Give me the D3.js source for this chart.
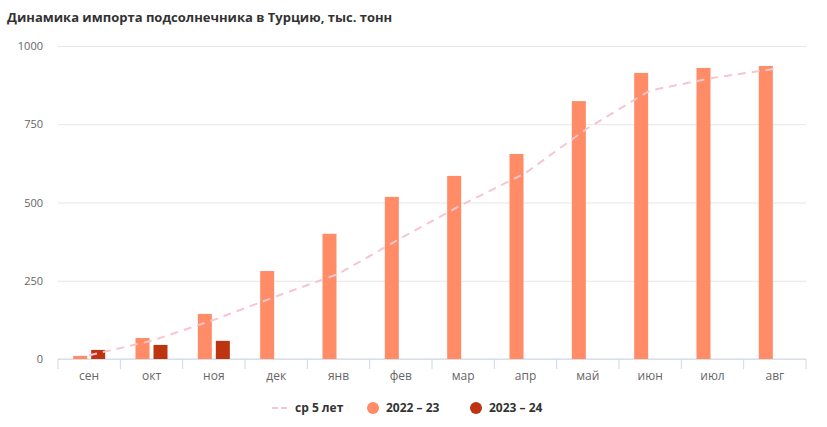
<!DOCTYPE html>
<html><head><meta charset="utf-8">
<script src="https://cdn.jsdelivr.net/npm/d3@7"></script>
<style>body{margin:0;background:#fff;font-family:"Open Sans",sans-serif}</style>
</head><body>
<svg id="c" width="827" height="427"></svg>
<script>
const categories = ["сен","окт","ноя","дек","янв","фев","мар","апр","май","июн","июл","авг"];
const s2022 = [10,67,144,281,400,518,585,655,824,914,930,936];
const s2023 = [29,45,58,null,null,null,null,null,null,null,null,null];
const avg5 = [12,58,125,200,272,386,495,594,738,858,898,927];
const yTicks = [0,250,500,750,1000];
const seriesNames = ["ср 5 лет","2022 – 23","2023 – 24"];
const colors = {avg:"#f7c5cf", a:"#ff8b67", b:"#bf3410"};

const svg = d3.select("#c");
const L=58,R=806,T=46,B=359;
const x = d3.scaleBand().domain(categories).range([L,R]);
const y = d3.scaleLinear().domain([0,1000]).range([B,T]);

svg.append("text").attr("x",7).attr("y",22).text("Динамика импорта подсолнечника в Турцию, тыс. тонн")
  .attr("font-size",13).attr("font-weight","bold").attr("fill","#333");

// grid
const ya = svg.append("g").attr("transform",`translate(${L},0)`)
  .call(d3.axisLeft(y).tickValues(yTicks).tickSize(-(R-L)).tickFormat(d3.format("d")));
ya.select(".domain").remove();
ya.selectAll(".tick line").attr("stroke","#e6e6e6");
ya.selectAll(".tick text").attr("x",-15).attr("fill","#666").attr("font-size",11).attr("font-family","Open Sans");

// x axis
const xa = svg.append("g").attr("transform",`translate(0,${B})`).call(d3.axisBottom(x).tickSize(0).tickPadding(12));
xa.select(".domain").attr("stroke","#ccd6eb").attr("d",`M${L},0H${R}`);
xa.selectAll(".tick text").attr("fill","#666").attr("font-size",12).attr("font-family","Open Sans");
const bounds = categories.map(c=>x(c)).concat([R]);
xa.selectAll(".bt").data(bounds).enter().append("line").attr("class","bt")
  .attr("x1",d=>d).attr("x2",d=>d).attr("y1",0).attr("y2",10).attr("stroke","#ccd6eb");

// bars
const bw = 14, gap = 4;
const g = svg.append("g");
g.selectAll(".a").data(categories).enter().append("rect")
  .attr("x",c=>x(c)+x.bandwidth()/2-bw-gap/2).attr("width",bw)
  .attr("y",(c,i)=>y(s2022[i])).attr("height",(c,i)=>B-y(s2022[i])).attr("fill",colors.a);
g.selectAll(".b").data(categories.filter((c,i)=>s2023[i]!=null)).enter().append("rect")
  .attr("x",c=>x(c)+x.bandwidth()/2+gap/2).attr("width",bw)
  .attr("y",(c)=>y(s2023[categories.indexOf(c)])).attr("height",c=>B-y(s2023[categories.indexOf(c)])).attr("fill",colors.b);

// line
const line = d3.line().x((d,i)=>x(categories[i])+x.bandwidth()/2).y(d=>y(d));
svg.append("path").attr("d",line(avg5)).attr("fill","none").attr("stroke",colors.avg)
  .attr("stroke-width",2).attr("stroke-dasharray","8,6");

// legend
const lg = svg.append("g").attr("font-size",12).attr("font-weight","bold").attr("fill","#333");
lg.append("line").attr("x1",272).attr("x2",288).attr("y1",408).attr("y2",408)
  .attr("stroke",colors.avg).attr("stroke-width",2).attr("stroke-dasharray","6,3");
lg.append("text").attr("x",295).attr("y",412).text(seriesNames[0]);
lg.append("circle").attr("cx",373).attr("cy",408).attr("r",6).attr("fill",colors.a);
lg.append("text").attr("x",386).attr("y",412).text(seriesNames[1]);
lg.append("circle").attr("cx",476).attr("cy",408).attr("r",6).attr("fill",colors.b);
lg.append("text").attr("x",489).attr("y",412).text(seriesNames[2]);
</script>
</body></html>
